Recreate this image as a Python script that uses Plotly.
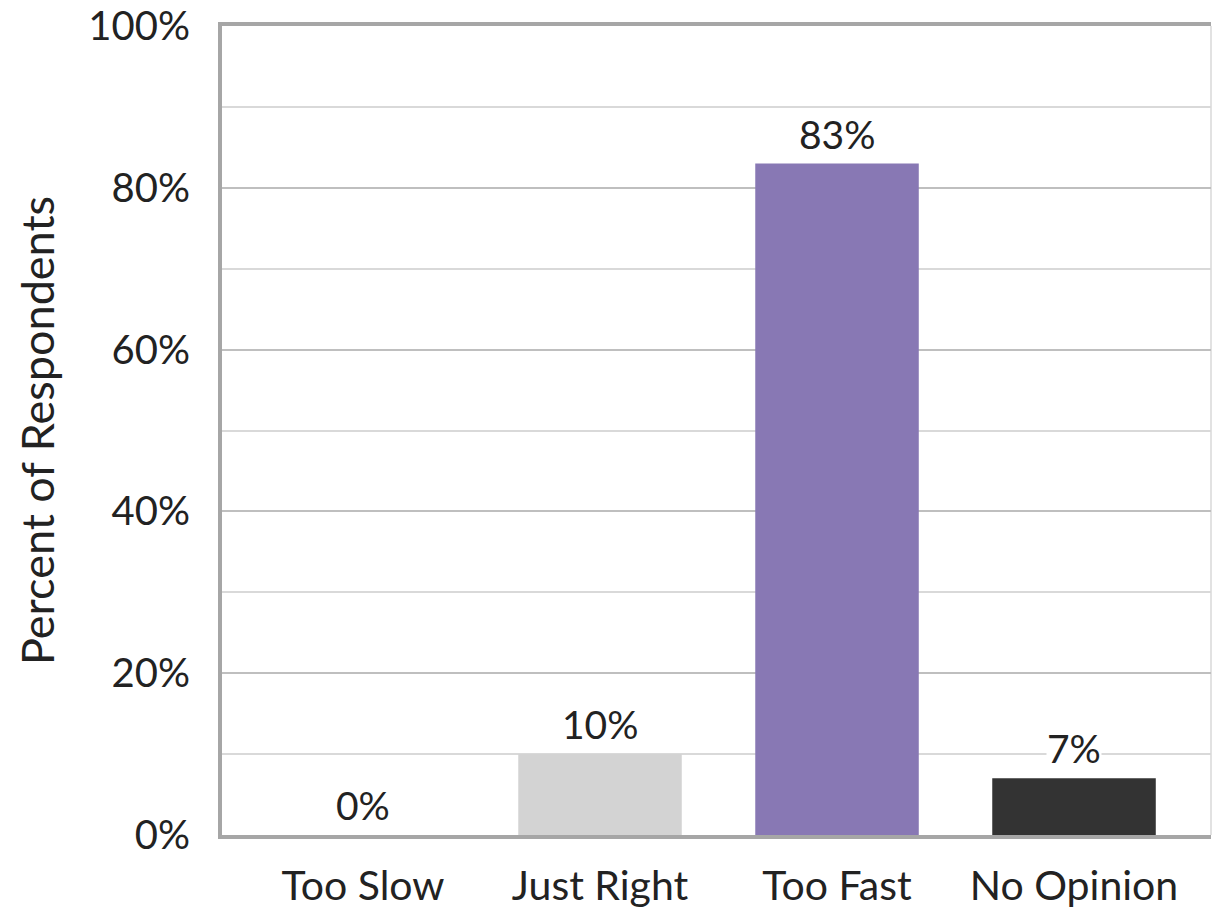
import plotly.graph_objects as go

categories = ["Too Slow", "Just Right", "Too Fast", "No Opinion"]
values = [0, 10, 83, 7]
labels = ["0%", "10%", "83%", "7%"]
colors = ["#D3D3D3", "#D3D3D3", "#8878B4", "#333333"]
y_ticks = [0, 20, 40, 60, 80, 100]
y_tick_labels = ["0%", "20%", "40%", "60%", "80%", "100%"]

FONT = "Lato, 'Open Sans', sans-serif"
TXT = "#222222"
xs = list(range(len(categories)))

fig = go.Figure()
fig.add_trace(go.Bar(
    x=xs, y=values, marker=dict(color=colors, line=dict(width=0)),
    width=0.69, showlegend=False, hoverinfo="skip",
))

for x, v, t in zip(xs, values, labels):
    # label box is white only where it would sit on a gridline (as in the source)
    on_grid = (v > 0) and ((v + 3) % 10 < 4)
    fig.add_annotation(x=x, y=v, text=t, showarrow=False, yanchor="bottom",
                       yshift=6, bgcolor="white" if on_grid else "rgba(0,0,0,0)",
                       borderpad=0,
                       font=dict(family=FONT, size=39, color=TXT))

fig.add_shape(type="line", xref="paper", yref="paper", x0=1, x1=1, y0=0, y1=1,
              line=dict(color="#D9D9D9", width=1.5), layer="below")

fig.update_layout(
    width=1212, height=910,
    margin=dict(l=222, r=1, t=26, b=72),
    paper_bgcolor="white", plot_bgcolor="white",
    font=dict(family=FONT, size=39, color=TXT),
    bargap=0.31,
)
fig.update_xaxes(
    range=[-0.595, 3.578], tickvals=xs, ticktext=categories,
    showgrid=False, zeroline=False,
    showline=True, linecolor="#A6A6A6", linewidth=4, mirror=True,
    ticks="", ticklabelstandoff=12,
    tickfont=dict(family=FONT, size=41, color=TXT),
)
fig.update_yaxes(
    range=[0, 100], tickvals=y_ticks, ticktext=y_tick_labels,
    showgrid=True, gridcolor="#BFBFBF", gridwidth=2,
    minor=dict(dtick=10, tick0=0, showgrid=True, gridcolor="#D9D9D9", gridwidth=1.5, ticks=""),
    zeroline=False,
    showline=True, linecolor="#A6A6A6", linewidth=4,
    ticks="", ticklabelstandoff=20,
    tickfont=dict(family=FONT, size=40, color=TXT),
    title=dict(text="Percent of Respondents", standoff=21,
               font=dict(family=FONT, size=45, color=TXT)),
)

fig.write_html(
    "out.html",
    config={"displayModeBar": False},
    post_script="document.body.style.margin='0';document.body.style.overflow='hidden';",
)
